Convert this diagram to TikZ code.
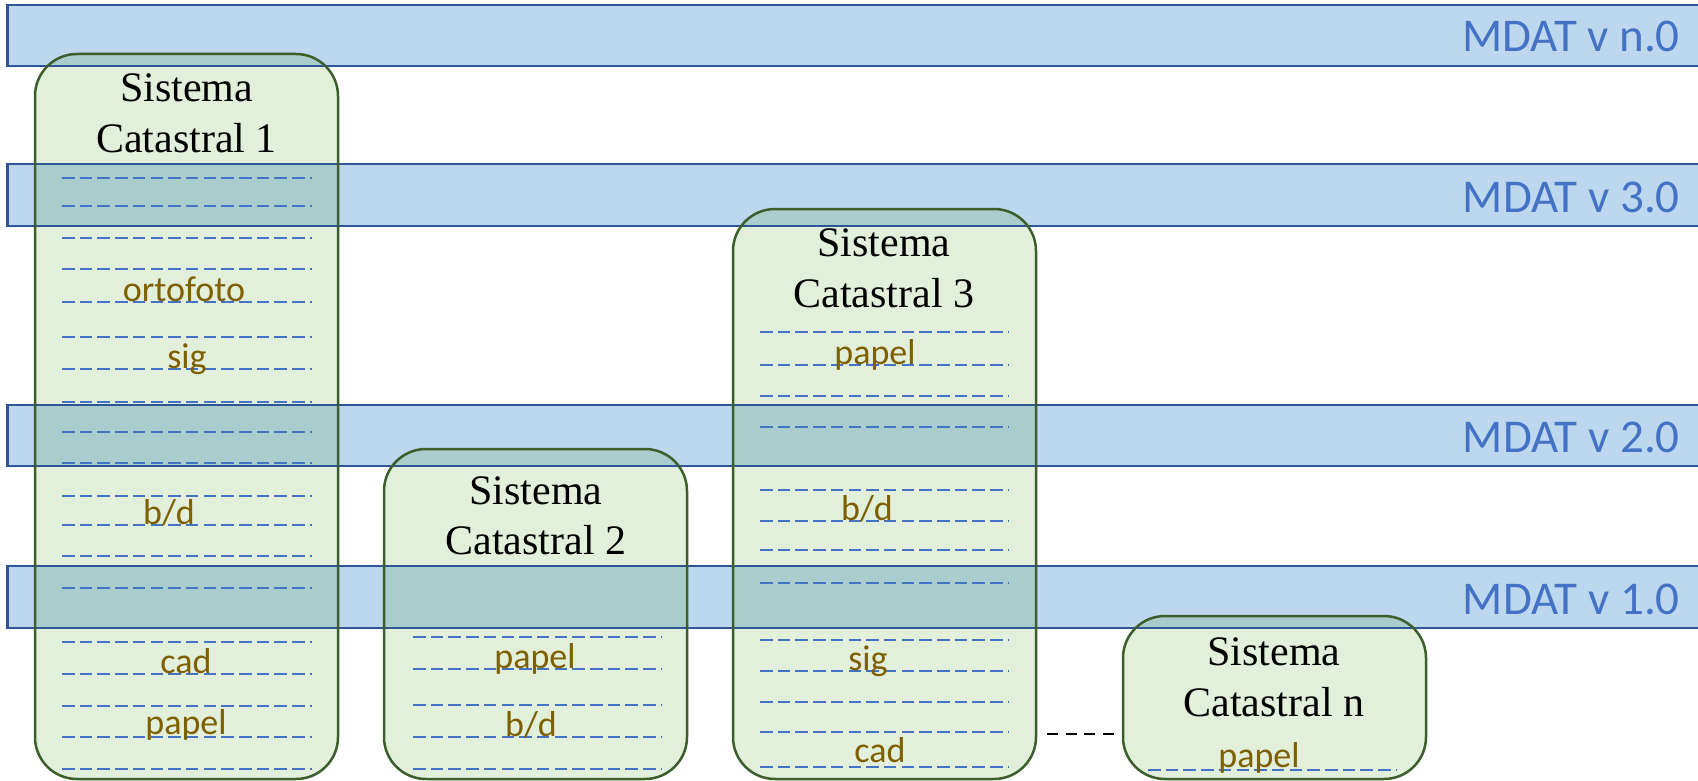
\documentclass[tikz,border=0pt]{standalone}
\usepackage{fontspec}
\setmainfont{Liberation Serif}
\newfontfamily\carlito{Carlito}
\definecolor{bandfill}{HTML}{BDD7EE}
\definecolor{bandline}{HTML}{2F5597}
\definecolor{boxfill}{HTML}{E2EFDA}
\definecolor{boxline}{HTML}{3B5E2B}
\definecolor{overlap}{HTML}{A9CDCD}
\definecolor{dashblue}{HTML}{4472C4}
\definecolor{lblbrown}{HTML}{7F6000}
\definecolor{mdatblue}{HTML}{4472C4}
\tikzset{
  sysbox/.style={rectangle, rounded corners=42pt, minimum width=303pt, inner sep=0pt, outer sep=0pt, anchor=north west},
  bandrect/.style={fill=bandfill},
  bandborder/.style={draw=bandline, line width=2.5pt},
  boxborder/.style={draw=boxline, line width=2.5pt, rounded corners=42pt},
  dashline/.style={draw=dashblue, line width=2pt, dash pattern=on 12.5pt off 5.2pt},
  titletext/.style={font=\fontsize{42}{51}\selectfont, anchor=base, inner sep=0pt},
  lbl/.style={font=\carlito\fontsize{36}{40}\selectfont, text=lblbrown, anchor=base, inner sep=0pt},
  mdat/.style={font=\carlito\fontsize{47}{50}\selectfont, text=mdatblue, anchor=base east, inner sep=0pt},
  etc/.style={draw=black, line width=2.5pt, dash pattern=on 11pt off 7.7pt}
}
\begin{document}
\begin{tikzpicture}[x=1pt,y=-1pt]
\useasboundingbox (0,0) rectangle (1698,781);
% bands fill
\def\bandlist{5/66, 164/226, 405/466, 566/628}
\foreach \a/\b in \bandlist { \fill[bandrect] (7.5,\a) rectangle (1712,\b); }
% boxes
\node[sysbox, minimum height=725pt, fill=boxfill] (b1) at (35,54) {};
\node[sysbox, minimum height=330pt, fill=boxfill] (b2) at (384,449) {};
\node[sysbox, minimum height=570pt, fill=boxfill] (b3) at (733,209) {};
\node[sysbox, minimum height=163pt, fill=boxfill] (bn) at (1123,616) {};
% overlaps
\foreach \bx in {b1,b2,b3,bn} {
  \begin{scope}
    \clip[rounded corners=42pt] (\bx.south west) rectangle (\bx.north east);
    \foreach \a/\b in \bandlist { \fill[overlap] (7.5,\a) rectangle (1712,\b); }
  \end{scope}
}
% dashed lines
\foreach \y in {178,206,238,269,302,337,369,402,432,463,496,525,556,588,642,674,706,737,769}
  { \draw[dashline] (62,\y) -- (312,\y); }
\foreach \y in {637,669,705,737,769}
  { \draw[dashline] (413,\y) -- (662,\y); }
\foreach \y in {332,365,396,427,490,521,550,583,640,671,702,732,767}
  { \draw[dashline] (760,\y) -- (1009,\y); }
\foreach \y in {770}
  { \draw[dashline] (1148,\y) -- (1397,\y); }
% titles
\node[titletext] (t1a) at (186.5,102) {Sistema};
\node[titletext] (t1b) at (186.5,153) {Catastral 1};
\node[titletext] (t2a) at (536,504) {Sistema};
\node[titletext] (t2b) at (536,554) {Catastral 2};
\node[titletext] (t3a) at (884,256) {Sistema};
\node[titletext] (t3b) at (884,307) {Catastral 3};
\node[titletext] (tna) at (1274,665) {Sistema};
\node[titletext] (tnb) at (1274,716) {Catastral n};
% labels
\node[lbl] (l1a) at (184,301) {ortofoto};
\node[lbl] (l1b) at (187,368) {sig};
\node[lbl] (l1c) at (169,524) {b/d};
\node[lbl] (l1d) at (186,673) {cad};
\node[lbl] (l1e) at (186,734) {papel};
\node[lbl] (l2a) at (535,668) {papel};
\node[lbl] (l2b) at (531,736) {b/d};
\node[lbl] (l3a) at (875,364) {papel};
\node[lbl] (l3b) at (867,520) {b/d};
\node[lbl] (l3c) at (868,670) {sig};
\node[lbl] (l3d) at (880,762) {cad};
\node[lbl] (lna) at (1259,767) {papel};
% band borders and labels
\foreach \a/\b in \bandlist { \draw[bandborder] (7.5,\a) rectangle (1712,\b); }
\node[mdat] (m4) at (1680,52) {MDAT v n.0};
\node[mdat] (m3) at (1680,212) {MDAT v 3.0};
\node[mdat] (m2) at (1680,452) {MDAT v 2.0};
\node[mdat] (m1) at (1680,614) {MDAT v 1.0};
% box borders
\foreach \bx in {b1,b2,b3,bn} {
  \draw[boxborder] (\bx.south west) rectangle (\bx.north east);
}
% connector
\coordinate (c3) at (1047,734);
\coordinate (cn) at (1114,734);
\draw[etc] (c3) -- (cn);
\end{tikzpicture}
\end{document}
